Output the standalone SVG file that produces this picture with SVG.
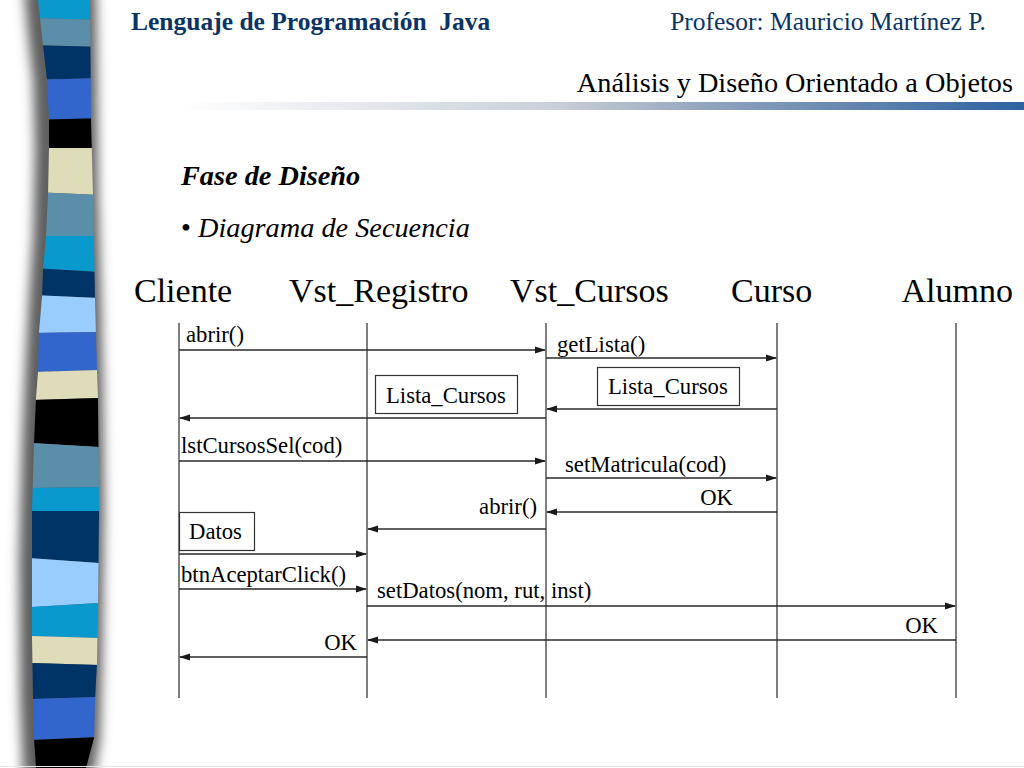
<svg xmlns="http://www.w3.org/2000/svg" width="1024" height="768" viewBox="0 0 1024 768">
<defs>
<style>
.hdr{font-family:"Liberation Serif","Times New Roman",serif;font-size:25.5px;fill:#0a3465}
.ttl{font-family:"Liberation Serif","Times New Roman",serif;font-size:28.3px;fill:#000}
.obj{font-family:"Liberation Serif","Times New Roman",serif;font-size:34px;fill:#000}
.lbl{font-family:"Liberation Serif","Times New Roman",serif;font-size:22.7px;fill:#000}
.life{stroke:#3a3a3a;stroke-width:1.3;fill:none}
.msg{stroke:#2a2a2a;stroke-width:1.7;fill:none;marker-end:url(#ah)}
.box{fill:#fff;stroke:#333;stroke-width:1.2}
</style>
<marker id="ah" markerUnits="userSpaceOnUse" markerWidth="11" markerHeight="8" refX="10" refY="4" orient="auto">
<path d="M0,0.5 L11,4 L0,7.5 Z" fill="#1a1a1a"/>
</marker>
<linearGradient id="bar" x1="180" y1="0" x2="1024" y2="0" gradientUnits="userSpaceOnUse">
<stop offset="0" stop-color="#ffffff"/>
<stop offset="0.45" stop-color="#c9ced8"/>
<stop offset="0.62" stop-color="#93a5bd"/>
<stop offset="1" stop-color="#2d62a0"/>
</linearGradient>
<filter id="blur" x="-50%" y="-10%" width="200%" height="120%">
<feGaussianBlur stdDeviation="6"/>
</filter>
<clipPath id="strip">
<polygon points="38,0 43,45 47,80 49,120 49,148 48,195 46,236 43,270 42,297 39,332 38,372 36,398 34,443 32,511 32,560 32,637 33,698 34,738 36,768 86,768 94,738 95,700 97,663 98,605 99,511 98,398 97,372 95,300 93,195 91,120 90,0"/>
</clipPath>
</defs>
<rect width="1024" height="768" fill="#fff"/>

<g id="decor-strip">
<polygon filter="url(#blur)" fill="#5e5e5e" points="24,-10 29,45 33,80 35,148 33,236 29,297 25,372 22,443 19,560 20,698 23,775 94,775 100,738 102,663 104,511 103,398 101,300 98,195 96,-10"/>
<g clip-path="url(#strip)">
<polygon fill="#0a99cc" points="30,-5 100,-5 100,20 30,18"/>
<polygon fill="#5b8fa9" points="30,18 100,20 100,47 30,45"/>
<polygon fill="#003366" points="30,45 100,47 100,78 30,80"/>
<polygon fill="#3366cc" points="30,80 100,78 100,118 30,120"/>
<polygon fill="#000000" points="30,120 100,118 100,148 30,148"/>
<polygon fill="#dedcb9" points="30,148 100,148 100,195 30,192"/>
<polygon fill="#5b8fa9" points="30,192 100,195 100,236 30,236"/>
<polygon fill="#0a99cc" points="30,236 100,236 100,272 30,268"/>
<polygon fill="#003366" points="30,268 100,272 100,298 30,295"/>
<polygon fill="#99ccff" points="30,295 100,298 100,332 30,333"/>
<polygon fill="#3366cc" points="30,333 100,332 100,370 30,372"/>
<polygon fill="#dedcb9" points="30,372 100,370 100,398 30,400"/>
<polygon fill="#000000" points="30,400 100,398 100,447 30,443"/>
<polygon fill="#5b8fa9" points="30,443 100,447 100,487 30,488"/>
<polygon fill="#0a99cc" points="30,488 100,487 100,511 30,511"/>
<polygon fill="#003366" points="30,511 100,511 100,563 30,558"/>
<polygon fill="#99ccff" points="30,558 100,563 100,603 30,607"/>
<polygon fill="#0a99cc" points="30,607 100,603 100,638 30,636"/>
<polygon fill="#dedcb9" points="30,636 100,638 100,665 30,663"/>
<polygon fill="#003366" points="30,663 100,665 100,697 30,699"/>
<polygon fill="#3366cc" points="30,699 100,697 100,737 30,740"/>
<polygon fill="#000000" points="30,740 100,737 100,775 30,775"/>
</g>
<line x1="0" y1="766.5" x2="1024" y2="766.5" stroke="#e6e6e6" stroke-width="1"/>
</g>

<g id="header">
<text class="hdr" x="131" y="30" font-weight="bold" xml:space="preserve">Lenguaje de Programación  Java</text>
<text class="hdr" x="986" y="30" text-anchor="end">Profesor: Mauricio Martínez P.</text>
<text class="ttl" x="1013" y="92" text-anchor="end">Análisis y Diseño Orientado a Objetos</text>
<rect x="180" y="102" width="844" height="8" fill="url(#bar)"/>
<text class="ttl" x="181" y="185" font-weight="bold" font-style="italic">Fase de Diseño</text>
<text class="ttl" x="181" y="237">• <tspan font-style="italic">Diagrama de Secuencia</tspan></text>
</g>

<g id="Cliente">
<text class="obj" x="134" y="302">Cliente</text>
<line class="life" x1="179" y1="323" x2="179" y2="698"/>
</g>
<g id="Vst_Registro">
<text class="obj" x="289" y="302">Vst_Registro</text>
<line class="life" x1="367" y1="323" x2="367" y2="698"/>
</g>
<g id="Vst_Cursos">
<text class="obj" x="510" y="302">Vst_Cursos</text>
<line class="life" x1="546" y1="323" x2="546" y2="698"/>
</g>
<g id="Curso">
<text class="obj" x="731" y="302">Curso</text>
<line class="life" x1="777" y1="323" x2="777" y2="698"/>
</g>
<g id="Alumno">
<text class="obj" x="1013" y="302" text-anchor="end">Alumno</text>
<line class="life" x1="956" y1="323" x2="956" y2="698"/>
</g>

<g id="connectors">
<line class="msg" x1="179" y1="350" x2="545" y2="350"/>
<line class="msg" x1="546" y1="358" x2="776" y2="358"/>
<line class="msg" x1="777" y1="409" x2="547" y2="409"/>
<line class="msg" x1="546" y1="418" x2="180" y2="418"/>
<line class="msg" x1="179" y1="461" x2="545" y2="461"/>
<line class="msg" x1="546" y1="478" x2="776" y2="478"/>
<line class="msg" x1="777" y1="512" x2="547" y2="512"/>
<line class="msg" x1="546" y1="529" x2="368" y2="529"/>
<line class="msg" x1="179" y1="554" x2="366" y2="554"/>
<line class="msg" x1="179" y1="589" x2="366" y2="589"/>
<line class="msg" x1="367" y1="606" x2="955" y2="606"/>
<line class="msg" x1="956" y1="640" x2="368" y2="640"/>
<line class="msg" x1="367" y1="657" x2="180" y2="657"/>
</g>

<g id="labels">
<text class="lbl" x="186" y="342">abrir()</text>
<text class="lbl" x="557" y="352">getLista()</text>
<g id="lista1"><rect class="box" x="375.5" y="375.5" width="142" height="38"/><text class="lbl" x="386" y="403">Lista_Cursos</text></g>
<g id="lista2"><rect class="box" x="597.5" y="367.5" width="142" height="38"/><text class="lbl" x="608" y="394">Lista_Cursos</text></g>
<text class="lbl" x="181" y="453">lstCursosSel(cod)</text>
<text class="lbl" x="565" y="472">setMatricula(cod)</text>
<text class="lbl" x="733" y="505" text-anchor="end">OK</text>
<text class="lbl" x="537" y="514" text-anchor="end">abrir()</text>
<g id="datos"><rect class="box" x="179.5" y="512.5" width="75" height="38"/><text class="lbl" x="189" y="539">Datos</text></g>
<text class="lbl" x="181" y="582">btnAceptarClick()</text>
<text class="lbl" x="377" y="598">setDatos(nom, rut, inst)</text>
<text class="lbl" x="938" y="633" text-anchor="end">OK</text>
<text class="lbl" x="357" y="650" text-anchor="end">OK</text>
</g>
</svg>
